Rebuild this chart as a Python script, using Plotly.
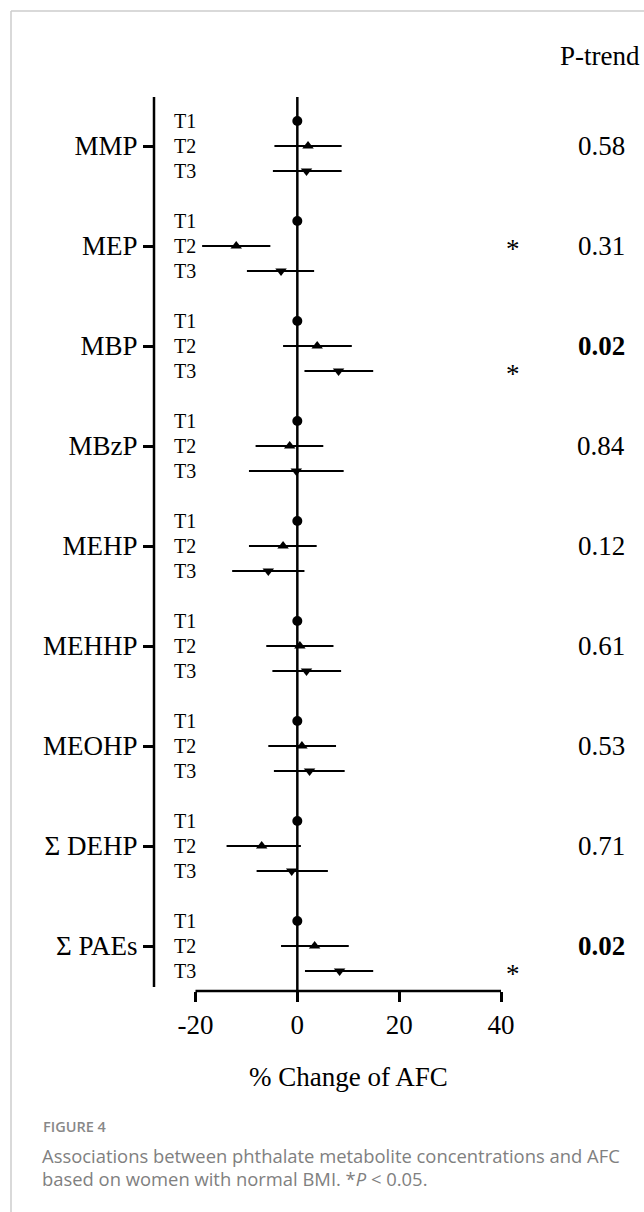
import plotly.graph_objects as go

# ---------------- data ----------------
metabolites = ["MMP", "MEP", "MBP", "MBzP", "MEHP", "MEHHP", "MEOHP", "Σ DEHP", "Σ PAEs"]
tertiles = ["T1", "T2", "T3"]

t1_est = [0, 0, 0, 0, 0, 0, 0, 0, 0]
t2_est = [2.1, -12.0, 3.9, -1.5, -2.8, 0.5, 0.9, -7.0, 3.4]
t2_lo = [-4.5, -18.7, -2.8, -8.2, -9.5, -6.1, -5.7, -13.9, -3.2]
t2_hi = [8.7, -5.3, 10.7, 5.1, 3.8, 7.1, 7.6, 0.7, 10.1]
t3_est = [1.8, -3.2, 8.1, -0.2, -5.7, 1.8, 2.4, -1.1, 8.3]
t3_lo = [-4.8, -9.9, 1.4, -9.5, -12.8, -4.9, -4.6, -8.0, 1.5]
t3_hi = [8.7, 3.3, 14.9, 9.1, 1.4, 8.6, 9.3, 6.0, 14.9]

p_trend = ["0.58", "0.31", "0.02", "0.84", "0.12", "0.61", "0.53", "0.71", "0.02"]
significant_tertiles = [("MEP", "T2"), ("MBP", "T3"), ("Σ PAEs", "T3")]

x_ticks = [-20, 0, 20, 40]
x_title = "% Change of AFC"
fig_label = "FIGURE 4"
caption_1 = "Associations between phthalate metabolite concentrations and AFC"
caption_2 = "based on women with normal BMI. *<i>P</i> &lt; 0.05."

# ---------------- layout geometry ----------------
W, H = 644, 1212
L, R, T, B = 154, 501, 97, 991
SERIF = "Liberation Serif, Times New Roman, serif"
SANS = "Open Sans, sans-serif"


def xp(px):
    return (px - L) / (R - L)


def yp(py):
    return (B - py) / (B - T)


def row(g, r):
    return g * 4 + r


y_top = -0.96
y_bot = 34.8
x_left = -28.15
x_right = 40

fig = go.Figure()

n = len(metabolites)
fig.add_trace(go.Scatter(
    x=t1_est, y=[row(g, 0) for g in range(n)], mode="markers",
    marker=dict(symbol="circle", size=10, color="black"), showlegend=False,
))
fig.add_trace(go.Scatter(
    x=t2_est, y=[row(g, 1) for g in range(n)], mode="markers",
    marker=dict(symbol="triangle-up", size=10, color="black"),
    error_x=dict(type="data", symmetric=False,
                 array=[h - e for h, e in zip(t2_hi, t2_est)],
                 arrayminus=[e - l for e, l in zip(t2_est, t2_lo)],
                 color="black", thickness=2, width=0),
    showlegend=False,
))
fig.add_trace(go.Scatter(
    x=t3_est, y=[row(g, 2) for g in range(n)], mode="markers",
    marker=dict(symbol="triangle-down", size=10, color="black"),
    error_x=dict(type="data", symmetric=False,
                 array=[h - e for h, e in zip(t3_hi, t3_est)],
                 arrayminus=[e - l for e, l in zip(t3_est, t3_lo)],
                 color="black", thickness=2, width=0),
    showlegend=False,
))

shapes = []
# zero line
shapes.append(dict(type="line", xref="x", yref="paper", x0=0, x1=0, y0=0, y1=1,
                   line=dict(color="black", width=2.5)))
# y axis line
shapes.append(dict(type="line", xref="paper", yref="y", x0=0, x1=0, y0=y_top, y1=34.64,
                   line=dict(color="black", width=2.5)))
# x axis line
shapes.append(dict(type="line", xref="x", yref="paper", x0=x_ticks[0], x1=x_ticks[-1], y0=0, y1=0,
                   line=dict(color="black", width=2.5)))
# card frame
shapes.append(dict(type="line", xref="paper", yref="paper", x0=xp(11), x1=xp(W + 5), y0=yp(11), y1=yp(11),
                   line=dict(color="#cccccc", width=1.5)))
shapes.append(dict(type="line", xref="paper", yref="paper", x0=xp(11), x1=xp(11), y0=yp(11), y1=yp(H + 5),
                   line=dict(color="#cccccc", width=1.5)))

ann = []
# tertile labels
for g in range(n):
    for r, t in enumerate(tertiles):
        ann.append(dict(x=xp(172), xref="paper", y=row(g, r), yref="y", text=t, showarrow=False,
                        xanchor="left", yanchor="middle", font=dict(family=SERIF, size=20, color="black")))
# p-trend values
ann.append(dict(x=xp(600), xref="paper", y=yp(56), yref="paper", text="P-trend", showarrow=False,
                xanchor="center", yanchor="middle", font=dict(family=SERIF, size=27, color="black")))
for g, p in enumerate(p_trend):
    txt = f"<b>{p}</b>" if float(p) < 0.05 else p
    ann.append(dict(x=xp(601), xref="paper", y=row(g, 1), yref="y", text=txt, showarrow=False,
                    xanchor="center", yanchor="middle", font=dict(family=SERIF, size=27, color="black")))
# significance stars
for m, t in significant_tertiles:
    g = metabolites.index(m)
    r = tertiles.index(t)
    ann.append(dict(x=xp(513), xref="paper", y=row(g, r), yref="y", text="*", showarrow=False,
                    xanchor="center", yanchor="middle", yshift=-3,
                    font=dict(family=SERIF, size=27, color="black")))
# axis title
ann.append(dict(x=(x_ticks[0] + x_ticks[-1]) / 2, xref="x", y=yp(1077), yref="paper", text=x_title,
                showarrow=False, xanchor="center", yanchor="middle",
                font=dict(family=SERIF, size=27, color="black")))
# caption
ann.append(dict(x=xp(41), xref="paper", y=yp(1126), yref="paper", text=fig_label, showarrow=False,
                xanchor="left", yanchor="middle", font=dict(family=SANS, size=14.5, color="#888888", weight=600)))
ann.append(dict(x=xp(40), xref="paper", y=yp(1155), yref="paper", text=caption_1, showarrow=False,
                xanchor="left", yanchor="middle", font=dict(family=SANS, size=18.4, color="#808080")))
ann.append(dict(x=xp(40), xref="paper", y=yp(1178), yref="paper", text=caption_2, showarrow=False,
                xanchor="left", yanchor="middle", font=dict(family=SANS, size=18.4, color="#808080")))

fig.update_layout(
    width=W, height=H,
    margin=dict(l=L, r=W - R, t=T, b=H - B, pad=0),
    paper_bgcolor="white", plot_bgcolor="white",
    shapes=shapes, annotations=ann,
    xaxis=dict(range=[x_left, x_right], tickvals=x_ticks, ticktext=[str(v) for v in x_ticks],
               ticks="outside", ticklen=10, tickwidth=2.5, tickcolor="black",
               showline=False, showgrid=False, zeroline=False,
               tickfont=dict(family=SERIF, size=27, color="black")),
    yaxis=dict(range=[y_bot, y_top], tickvals=[row(g, 1) for g in range(n)], ticktext=metabolites,
               ticks="outside", ticklen=10, tickwidth=2.5, tickcolor="black",
               showline=False, showgrid=False, zeroline=False,
               tickfont=dict(family=SERIF, size=27, color="black")),
)

fig.write_html("out.html", config={"displayModeBar": False},
               post_script="document.body.style.margin='0px';")
